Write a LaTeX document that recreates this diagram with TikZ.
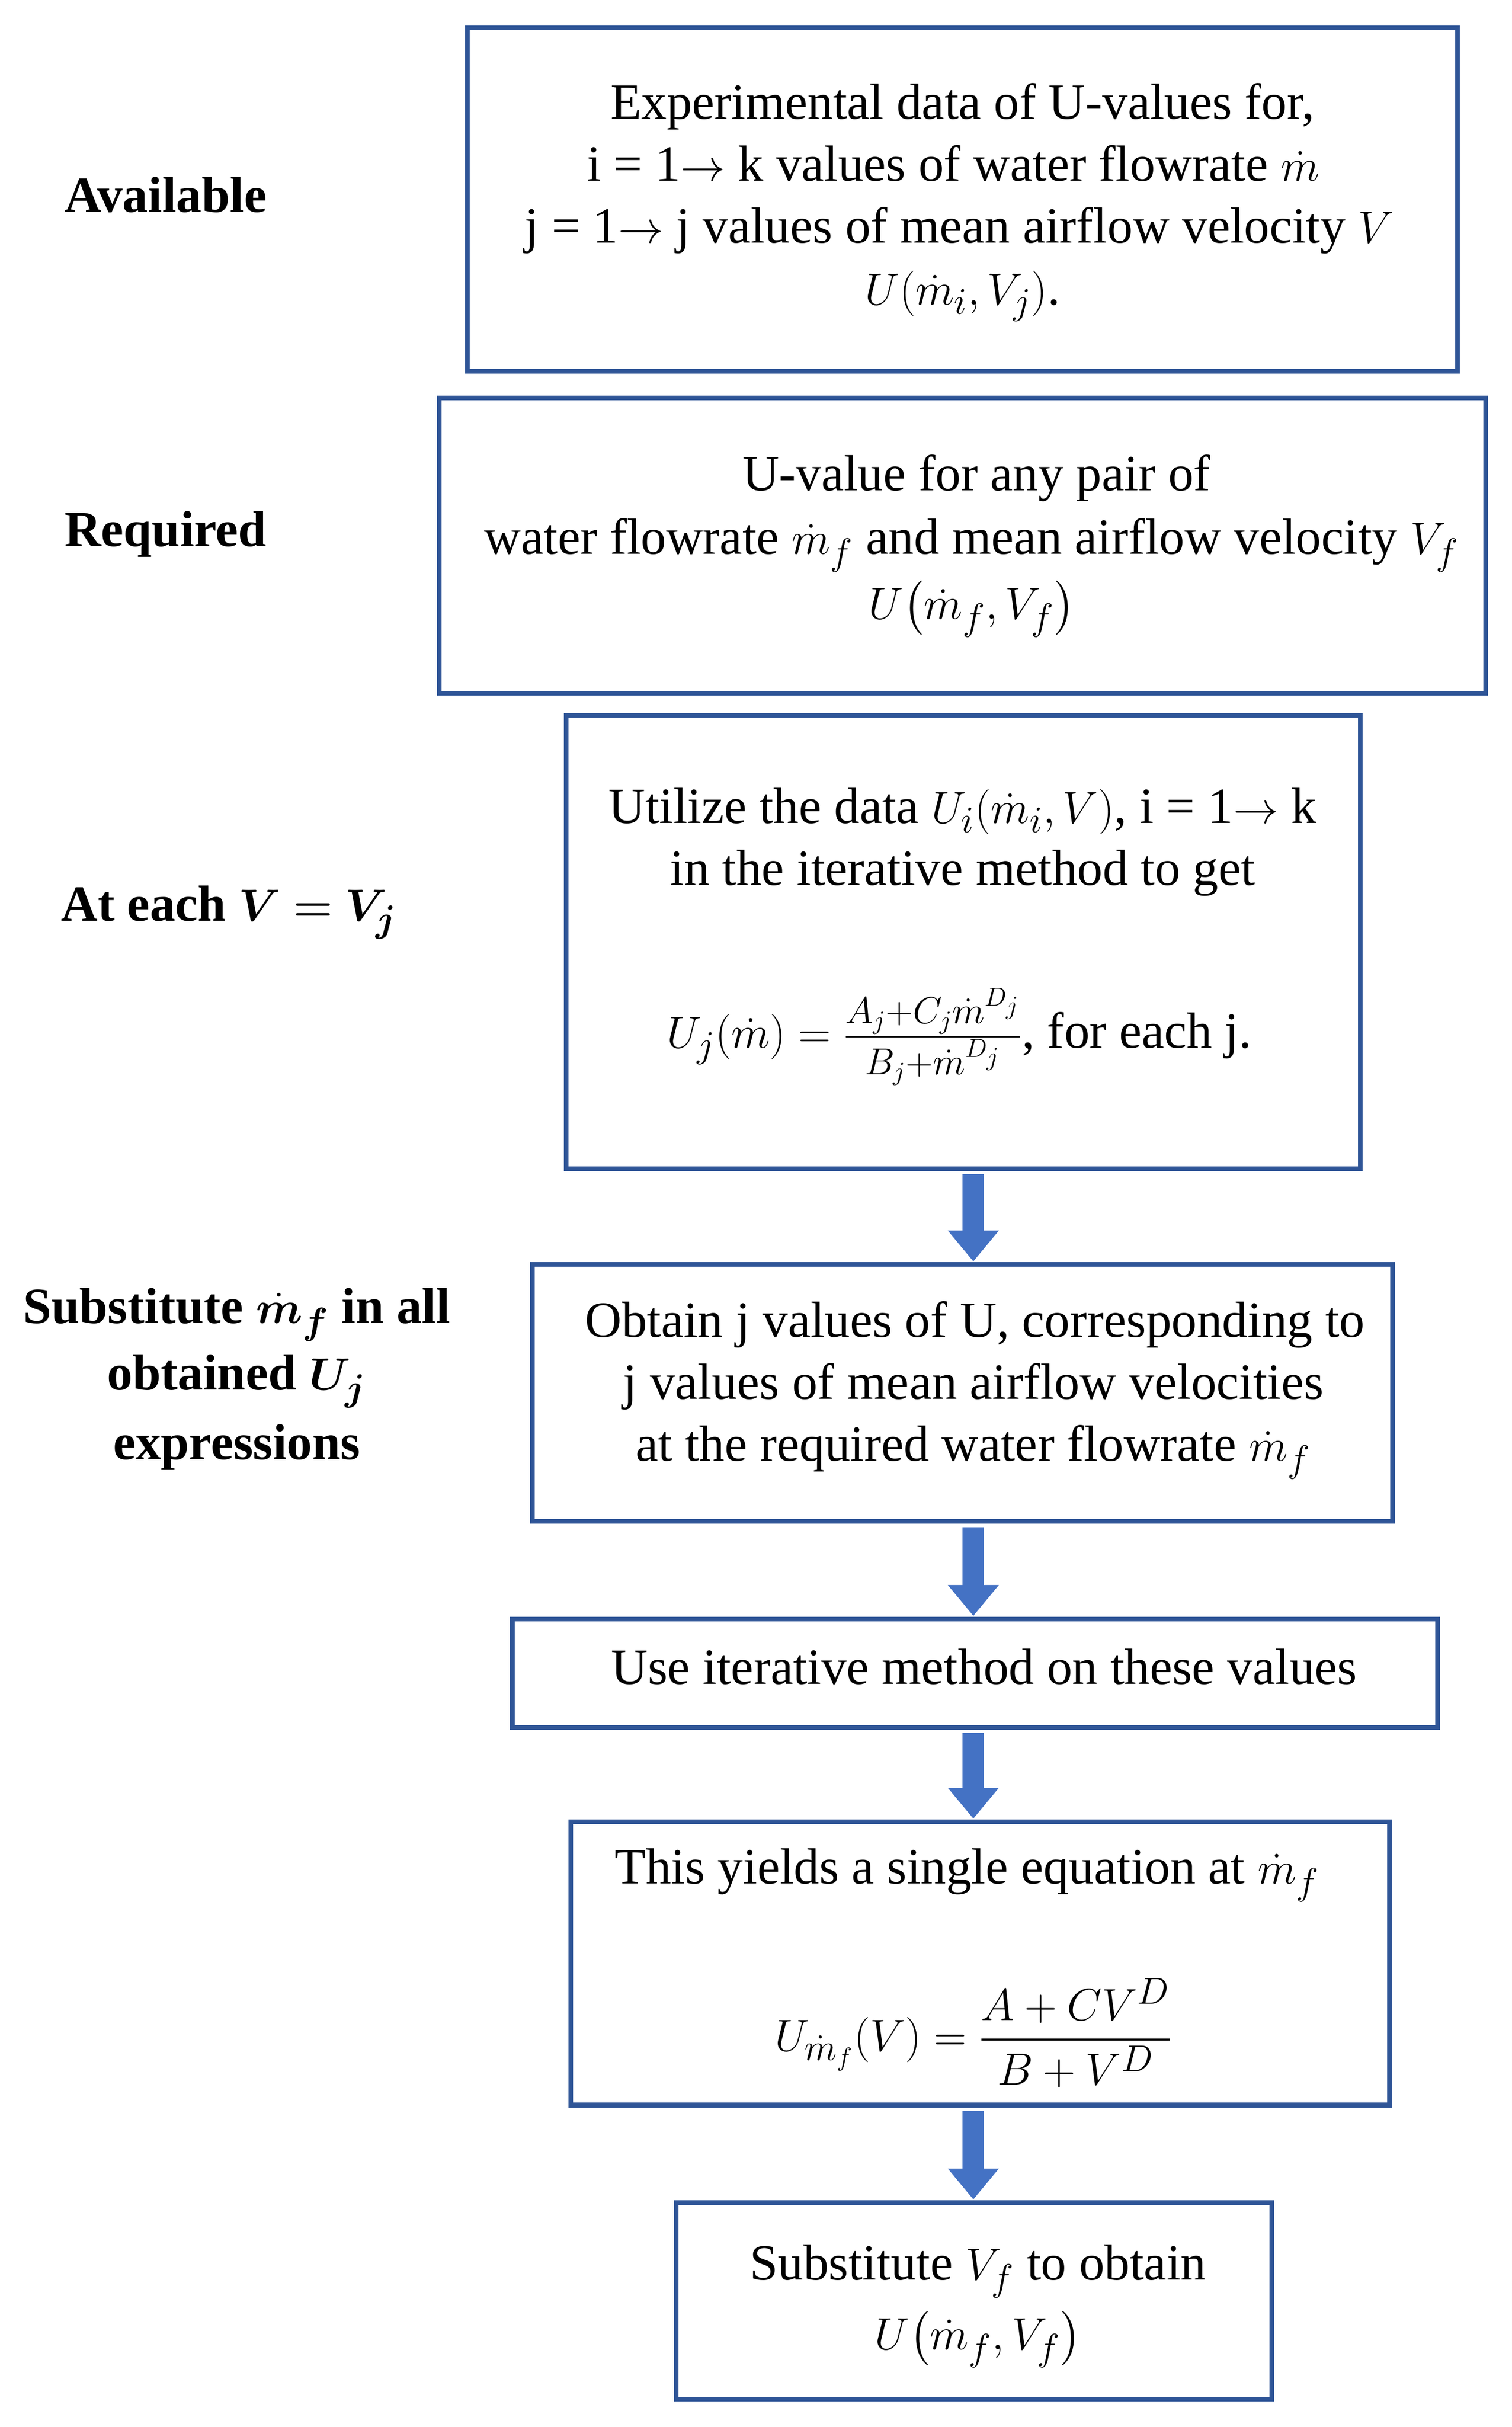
\documentclass[tikz,border=0pt]{standalone}
\usepackage{amsmath,bm}
\usepackage{fontspec}
\setmainfont{Liberation Serif}
\usetikzlibrary{arrows.meta}
\definecolor{bx}{HTML}{2F5597}
\definecolor{ar}{HTML}{4472C4}
\begin{document}
\fontsize{28}{34}\selectfont
\begin{tikzpicture}[x=0.03cm,y=-0.03cm,
 box/.style={draw=bx,line width=0.09cm},
 t/.style={inner sep=0pt,anchor=base},
 lb/.style={inner sep=0pt,anchor=base,font=\bfseries},
 arr/.style={draw=ar,line width=0.42cm,-{Triangle[width=0.95cm,length=0.6cm]},shorten <=0.05cm}]
\useasboundingbox (0,0) rectangle (977,1568);
\draw[box] (302,18) rectangle (942,240);
\draw[box] (284,257) rectangle (960,448);
\draw[box] (366,462) rectangle (879,755);
\draw[box] (344,817) rectangle (900,983);
\draw[box] (331,1046) rectangle (929,1116);
\draw[box] (369,1177) rectangle (898,1360);
\draw[box] (437,1423) rectangle (822,1550);
\coordinate (a1) at (629,757); \coordinate (a2) at (629,815);
\coordinate (a3) at (629,985); \coordinate (a4) at (629,1044);
\coordinate (a5) at (629,1118); \coordinate (a6) at (629,1175);
\coordinate (a7) at (629,1362); \coordinate (a8) at (629,1421);
\draw[arr] (a1) -- (a2);
\draw[arr] (a3) -- (a4);
\draw[arr] (a5) -- (a6);
\draw[arr] (a7) -- (a8);
% labels
\node[lb] (l1) at (107,137) {Available};
\node[lb] (l2) at (107,353) {Required};
\node[lb] (l3) at (148,595) {At each $\bm{V=V_j}$};
\node[lb] (l4) at (153,855) {Substitute $\bm{\dot m_f}$ in all};
\node[lb] (l5) at (153,898) {obtained $\bm{U_j}$};
\node[lb] (l6) at (153,943) {expressions};
% box1
\node[t] (t1) at (622,77) {Experimental data of U-values for,};
\node[t] (t2) at (616,117) {i = 1$\rightarrow$ k values of water flowrate $\dot m$};
\node[t] (t3) at (620,157) {j = 1$\rightarrow$ j values of mean airflow velocity $V$};
\node[t] (t4) at (622,197) {$U(\dot m_i,V_j)$.};
% box2
\node[t] (t5) at (631,317) {U-value for any pair of};
\node[t] (t6) at (628,358) {water flowrate $\dot m_f$ and mean airflow velocity $V_f$};
\node[t] (t7) at (628,400) {$U\bigl(\dot m_f,V_f\bigr)$};
% box3
\node[t] (t8) at (622,532) {Utilize the data $U_i(\dot m_i,V)$, i = 1$\rightarrow$ k};
\node[t] (t9) at (622,572) {in the iterative method to get};
\node[t] (t10) at (620,677) {$U_j(\dot m)=\frac{A_j+C_j\dot m^{D_j}}{B_j+\dot m^{D_j}}$, for each j.};
% box4
\node[t] (t11) at (630,864) {Obtain j values of U, corresponding to};
\node[t] (t12) at (629,904) {j values of mean airflow velocities};
\node[t] (t13) at (629,944) {at the required water flowrate $\dot m_f$};
% box5
\node[t] (t14) at (636,1088) {Use iterative method on these values};
% box6
\node[t] (t15) at (625,1217) {This yields a single equation at $\dot m_f$};
\node[t] (t16) at (629,1325) {$\displaystyle U_{\dot m_f}(V)=\frac{A+CV^D}{B+V^D}$};
% box7
\node[t] (t17) at (632,1473) {Substitute $V_f$ to obtain};
\node[t] (t18) at (632,1518) {$U\bigl(\dot m_f,V_f\bigr)$};
\end{tikzpicture}
\end{document}
